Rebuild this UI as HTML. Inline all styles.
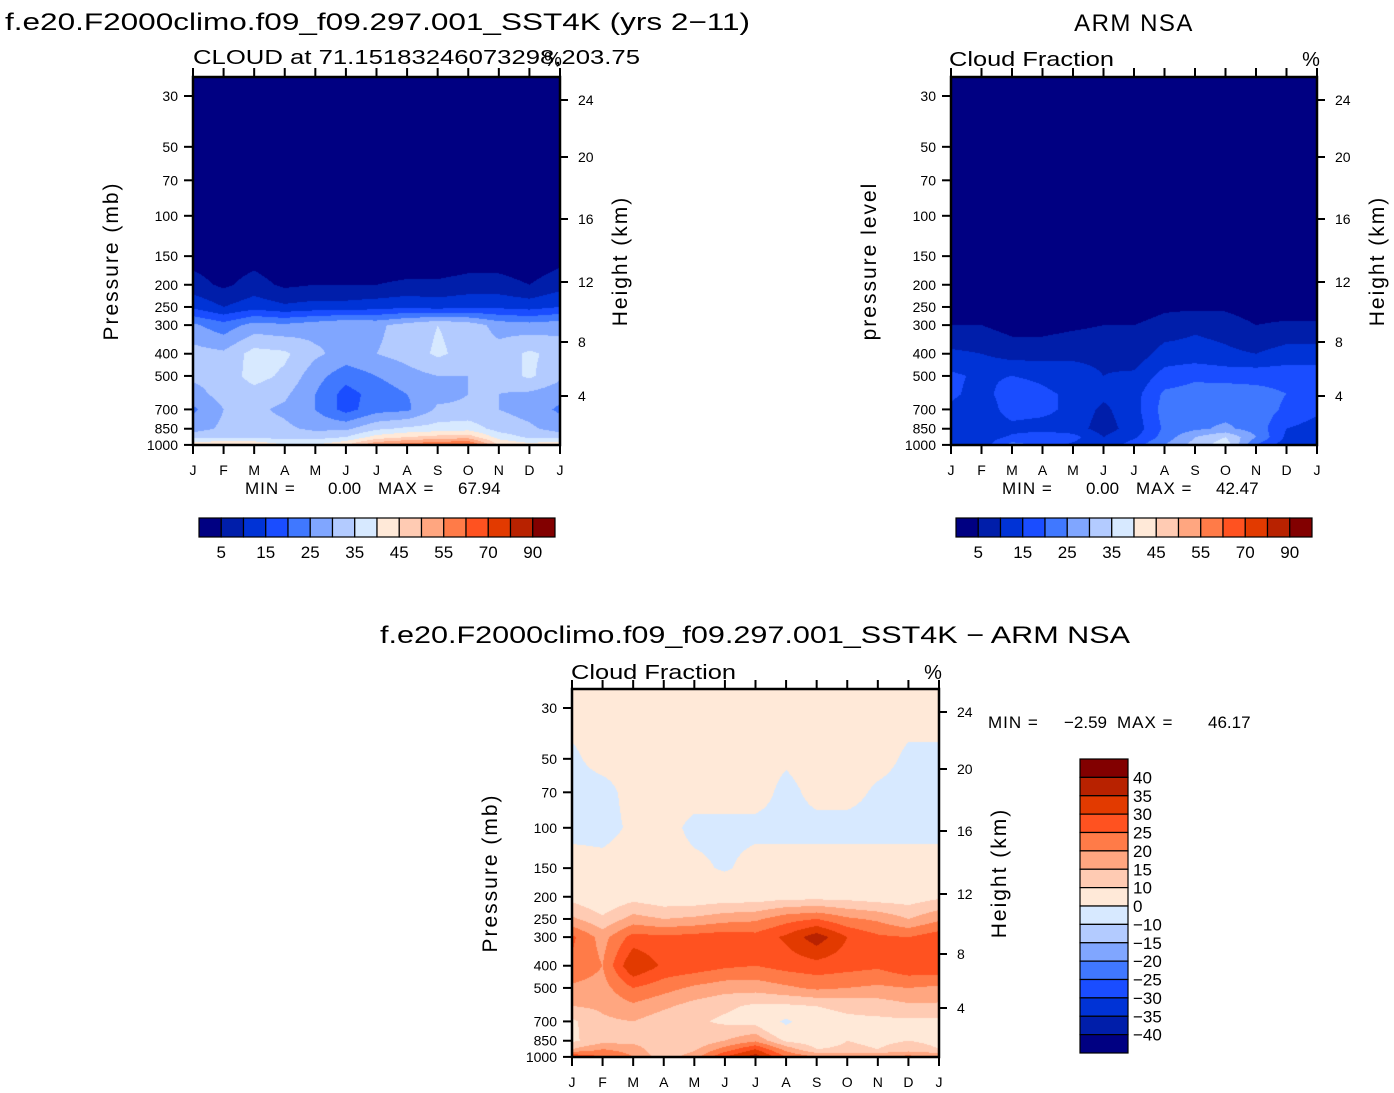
<!DOCTYPE html>
<html><head><meta charset="utf-8">
<style>
html,body{margin:0;padding:0;background:#fff;}
#wrap{position:relative;width:1394px;height:1093px;overflow:hidden;font-family:"Liberation Sans",sans-serif;}
canvas{position:absolute;}
svg{position:absolute;left:0;top:0;}
</style></head>
<body>
<div id="wrap">
<canvas id="c1" style="left:193px;top:77px" width="367" height="368"></canvas>
<canvas id="c2" style="left:951px;top:77px" width="366" height="368"></canvas>
<canvas id="c3" style="left:572px;top:689px" width="367" height="368"></canvas>
<svg id="ov" width="1394" height="1093"></svg>
</div>
<script>
// ---- data ----
const months = ["J","F","M","A","M","J","J","A","S","O","N","D","J"];
const pressures = [25,150,200,250,300,400,500,600,700,850,925,1000];
const pressureTicks = [30,50,70,100,150,200,250,300,400,500,700,850,1000];
const heightTicks = [24,20,16,12,8,4];
const heightTickOffsets = [23,80,142,205,265,319]; // px offset from box top (axis geometry)
const absLevels = [5,10,15,20,25,30,35,40,45,50,55,60,70,80,90];
const absLabels = ["5","15","25","35","45","55","70","90"];
const diffLevels = [-40,-35,-30,-25,-20,-15,-10,0,10,15,20,25,30,35,40];
const diffLabels = ["40","35","30","25","20","15","10","0","\u221210","\u221215","\u221220","\u221225","\u221230","\u221235","\u221240"];
const colors = ["#000082","#001eaa","#0033d6","#1a4dff","#4078ff","#80a6ff","#b3cbff","#d7e9ff","#ffe9d8","#ffcbb3","#ffa680","#ff7b48","#ff5220","#e23a00","#b82200","#820000"];

const modelCloud = [
 [0,0,0,0,0,0,0,0,0,0,0,0,0],
 [3,2,3,1,1,1,1,1,1,2,2,1,3],
 [7,4,7,4,5,5,5,6,6,7,7,5,8],
 [14,10,13,11,12,12,13,14,13,14,14,13,15],
 [26,22,27,26,28,30,29,32,35,33,28,27,28],
 [32,31,37,36,31,28,30,32,36,33,32,36,33],
 [31,32,37,34,27,22,25,28,30,30,32,36,31],
 [28,32,33,31,25,18,22,25,28,30,30,29,27],
 [24,30,31,29,25,18,23,24,31,31,30,28,24],
 [28,31,32,31,29,29,34,36,37,38,33,31,28],
 [33,34,34,33,33,35,42,45,47,48,38,34,33],
 [45,45,45,40,40,45,55,58,60,62,45,42,45]
];
const obsCloud = [
 [0,0,0,0,0,0,0,0,0,0,0,0,0],
 [1,1,1,1,1,1,1,1,1,1,1,1,1],
 [1,1,1,1,1,1,1,2,2,2,1,1,1],
 [2,2,2,2,2,2,2,4,4,4,2,2,2],
 [5,5,3,3,4,5,5,7,9,8,5,6,6],
 [11,10,8,8,9,9,7,12,12,11,10,12,12],
 [16,14,15,14,12,10,11,17,19,18,18,18,18],
 [16,13,18,16,14,11,13,21,22,23,22,20,17],
 [14,11,18,17,13,9,13,22,23,23,23,19,16],
 [13,11,13,12,12,8,12,21,24,26,23,15,13],
 [14,12,16,20,17,10,14,22,30,35,25,14,13],
 [10,12,22,18,14,10,18,25,32,38,20,12,10]
];
const diffPressures = [25,50,70,100,150,200,250,300,400,500,600,700,850,925,1000];
const diffCloud = [
 [3,3,3,3,3,3,3,3,3,3,3,3,3],
 [-1,2,2,3,3,3,3,1,3,3,2,-1,-1],
 [-2,-2,2,3,3,3,3,-2,2,2,-1,-2,-2],
 [-2,-2,1,3,-2,-2,-2,-2,-2,-2,-2,-2,-2],
 [3,2,3,3,2,-1,3,3,3,3,3,3,3],
 [8,5,8,6,6,7,7,8,8,8,7,7,9],
 [16,11,17,15,16,18,19,23,25,21,19,15,19],
 [26,18,27,26,27,28,27,31,38,30,26,25,28],
 [24,20,35,29,28,26,25,27,28,27,26,29,29],
 [19,18,25,22,19,17,17,19,21,20,19,20,19],
 [15,16,19,16,13,11,9,9,10,11,12,14,14],
 [9,14,15,12,11,9,8,-2,8,9,9,9,9],
 [9,13,13,12,11,15,19,9,7,10,9,10,9],
 [15,20,18,10,14,22,30,18,10,11,10,12,10],
 [30,25,20,12,18,30,38,25,20,20,20,22,20]
];

// ---- geometry ----
const PTOP=30, KY=99.5, Y30=19;
function yOfP(p){ return Y30 + KY*Math.log(p/PTOP); }
function pOfY(y){ return PTOP*Math.exp((y-Y30)/KY); }

function bin(v,levels){ let i=0; while(i<levels.length && v>=levels[i]) i++; return i; }

function render(id,grid,pr,levels){
  const cv=document.getElementById(id), ctx=cv.getContext('2d');
  const W=cv.width,H=cv.height, img=ctx.createImageData(W,H);
  const lp=pr.map(Math.log);
  const rgb=colors.map(c=>[parseInt(c.substr(1,2),16),parseInt(c.substr(3,2),16),parseInt(c.substr(5,2),16)]);
  for(let y=0;y<H;y++){
    const l=Math.log(pOfY(y+0.5));
    let j=0; while(j<lp.length-2 && l>lp[j+1]) j++;
    let ty=(l-lp[j])/(lp[j+1]-lp[j]); ty=Math.max(0,Math.min(1,ty));
    for(let x=0;x<W;x++){
      const m=(x+0.5)/W*12; let i=Math.min(11,Math.floor(m)); const tx=m-i;
      const v=(grid[j][i]*(1-tx)+grid[j][i+1]*tx)*(1-ty)+(grid[j+1][i]*(1-tx)+grid[j+1][i+1]*tx)*ty;
      const c=rgb[bin(v,levels)], k=(y*W+x)*4;
      img.data[k]=c[0];img.data[k+1]=c[1];img.data[k+2]=c[2];img.data[k+3]=255;
    }
  }
  ctx.putImageData(img,0,0);
}
render('c1',modelCloud,pressures,absLevels);
render('c2',obsCloud,pressures,absLevels);
render('c3',diffCloud,diffPressures,diffLevels);

// ---- overlay ----
const ov=document.getElementById('ov'), NS='http://www.w3.org/2000/svg';
function el(tag,attrs,parent){const e=document.createElementNS(NS,tag);for(const k in attrs)e.setAttribute(k,attrs[k]);(parent||ov).appendChild(e);return e;}
function txt(s,x,y,size,anchor,name,extra){const t=el('text',Object.assign({x:x,y:y,'font-size':size,'text-anchor':anchor||'start','font-family':'Liberation Sans, sans-serif',fill:'#000'},extra||{}));t.textContent=s;


return t;}

function axes(x0,y0,w,h,pref,leftTitle){
  const g=el('g',{});
  
  
  el('rect',{x:x0,y:y0,width:w,height:h,fill:'none',stroke:'#000','stroke-width':2.5},g);
  months.forEach((mo,i)=>{
    const x=x0+w*i/12;
    el('line',{x1:x,y1:y0,x2:x,y2:y0-9,stroke:'#000','stroke-width':2},g);
    el('line',{x1:x,y1:y0+h,x2:x,y2:y0+h+9,stroke:'#000','stroke-width':2},g);
    txt(mo,x,y0+h+30,14,'middle',pref+'-month-label');
  });
  pressureTicks.forEach(p=>{
    const y=y0+yOfP(p);
    el('line',{x1:x0,y1:y,x2:x0-9,y2:y,stroke:'#000','stroke-width':2},g);
    txt(String(p),x0-15,y+5,14,'end',pref+'-pressure-tick');
  });
  heightTicks.forEach((hv,i)=>{
    const y=y0+heightTickOffsets[i];
    el('line',{x1:x0+w,y1:y,x2:x0+w+8,y2:y,stroke:'#000','stroke-width':2},g);
    txt(String(hv),x0+w+18,y+5,14,'start',pref+'-height-tick');
  });
  txt(leftTitle,x0-75,y0+184,21,'middle',pref+'-y-axis-title',{transform:`rotate(-90 ${x0-75} ${y0+184})`,'letter-spacing':'2'});
  txt('Height (km)',x0+w+67,y0+184,21,'middle',pref+'-right-axis-title',{transform:`rotate(-90 ${x0+w+67} ${y0+184})`,'letter-spacing':'2'});
}
axes(193,77,367,368,'model','Pressure (mb)');
axes(951,77,366,368,'obs','pressure level');
axes(572,689,367,368,'diff','Pressure (mb)');

function hbar(x0,y0,name){
  const w=356/16;
  colors.forEach((c,i)=>{const r=el('rect',{x:x0+i*w,y:y0,width:w,height:19,fill:c,stroke:'#000','stroke-width':1.2});
    
    });
  absLabels.forEach((s,k)=>txt(s,x0+w*(2*k+1),y0+40,17,'middle',name+'-label'));
}
hbar(199,518,'model-colorbar');
hbar(956,518,'obs-colorbar');

(function(){
  const x0=1080,y0=759,h=294/16;
  for(let i=0;i<16;i++){const r=el('rect',{x:x0,y:y0+i*h,width:48,height:h,fill:colors[15-i],stroke:'#000','stroke-width':1.2});
    
    }
  diffLabels.forEach((s,k)=>txt(s,1133,y0+h*(k+1)+6,17,'start','diff-colorbar-label'));
})();

txt('f.e20.F2000climo.f09_f09.297.001_SST4K (yrs 2\u221211)',5,30,24,'start','model-title',{textLength:745,lengthAdjust:'spacingAndGlyphs'});
txt('CLOUD at 71.15183246073298,203.75',193,64,20,'start','model-subtitle',{textLength:447,lengthAdjust:'spacingAndGlyphs'});
txt('%',553,66,20,'middle','model-units');
txt('MIN =',245,494,17,'start','model-min-label',{'letter-spacing':'1'});
txt('0.00',328,494,17,'start','model-min-value');
txt('MAX =',378,494,17,'start','model-max-label',{'letter-spacing':'1'});
txt('67.94',458,494,17,'start','model-max-value');

txt('ARM NSA',1134,31,24,'middle','obs-title',{'letter-spacing':'1.5'});
txt('Cloud Fraction',949,66,20,'start','obs-subtitle',{textLength:165,lengthAdjust:'spacingAndGlyphs'});
txt('%',1311,66,20,'middle','obs-units');
txt('MIN =',1002,494,17,'start','obs-min-label',{'letter-spacing':'1'});
txt('0.00',1086,494,17,'start','obs-min-value');
txt('MAX =',1136,494,17,'start','obs-max-label',{'letter-spacing':'1'});
txt('42.47',1216,494,17,'start','obs-max-value');

txt('f.e20.F2000climo.f09_f09.297.001_SST4K \u2212 ARM NSA',380,643,24,'start','diff-title',{textLength:750,lengthAdjust:'spacingAndGlyphs'});
txt('Cloud Fraction',571,679,20,'start','diff-subtitle',{textLength:165,lengthAdjust:'spacingAndGlyphs'});
txt('%',933,679,20,'middle','diff-units');
txt('MIN =',988,728,17,'start','diff-min-label',{'letter-spacing':'1'});
txt('\u22122.59',1064,728,17,'start','diff-min-value');
txt('MAX =',1117,728,17,'start','diff-max-label',{'letter-spacing':'1'});
txt('46.17',1208,728,17,'start','diff-max-value');
</script>
</body></html>
